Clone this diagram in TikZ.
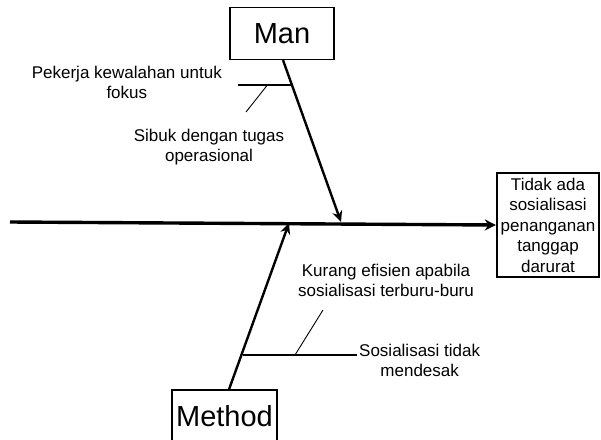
\documentclass[tikz,border=0pt]{standalone}
\usepackage{fontspec}
\setmainfont{Liberation Sans}
\usetikzlibrary{arrows.meta, positioning, calc}

\begin{document}
\begin{tikzpicture}[
  x=1pt, y=-1pt,
  headbox/.style={draw, line width=2.4pt, minimum width=102pt, minimum height=104pt, align=center, inner sep=2pt, font=\fontsize{17}{20.5}\selectfont},
  catbox/.style={draw, line width=1.2pt, minimum height=52pt, inner sep=2pt, font=\fontsize{29}{32}\selectfont},
  cause/.style={align=center, inner sep=2pt, font=\fontsize{17}{20}\selectfont},
  spine/.style={line width=3.4pt, -{Stealth[length=11pt, width=11pt]}},
  bone/.style={line width=2.4pt, -{Stealth[length=11pt, width=10pt]}},
  twig/.style={line width=1.8pt},
  tick/.style={line width=0.9pt}
]
  \clip (0,0) rectangle (601,439);

  \node[headbox] (effect) at (548,225) {Tidak ada\\sosialisasi\\penanganan\\tanggap\\darurat};
  \node[catbox, minimum width=104pt] (man) at (282,33.5) {Man};
  \node[catbox, minimum width=105pt] (method) at (224.5,416) {Method};

  \coordinate (tail) at (10,222);
  \coordinate (manhit) at (341,222);
  \coordinate (methodhit) at (289,223);
  \draw[spine] (tail) -- (effect.west);
  \draw[bone] ([xshift=1pt]man.south) -- (manhit);
  \draw[bone] ([xshift=4.5pt]method.north) -- (methodhit);

  \coordinate (manroot) at (238,85);
  \coordinate (manjoint) at (292,85);
  \coordinate (mantick) at (267,85.5);
  \draw[twig] (manroot) -- (manjoint);
  \node[cause, anchor=east] (pekerja) at (224,82) {Pekerja kewalahan untuk\\fokus};
  \node[cause] (sibuk) at (209,147) {Sibuk dengan tugas\\operasional};
  \draw[tick] (246,112) -- (mantick);

  \coordinate (methodjoint) at (243,355);
  \coordinate (methodtick) at (295,355);
  \node[cause, anchor=west] (sosial) at (357,360) {Sosialisasi tidak\\mendesak};
  \node[cause] (kurang) at (386,280) {Kurang efisien apabila\\sosialisasi terburu-buru};
  \draw[twig] (methodjoint) -- (sosial.west |- methodjoint);
  \draw[tick] (methodtick) -- (323,310);
\end{tikzpicture}
\end{document}
